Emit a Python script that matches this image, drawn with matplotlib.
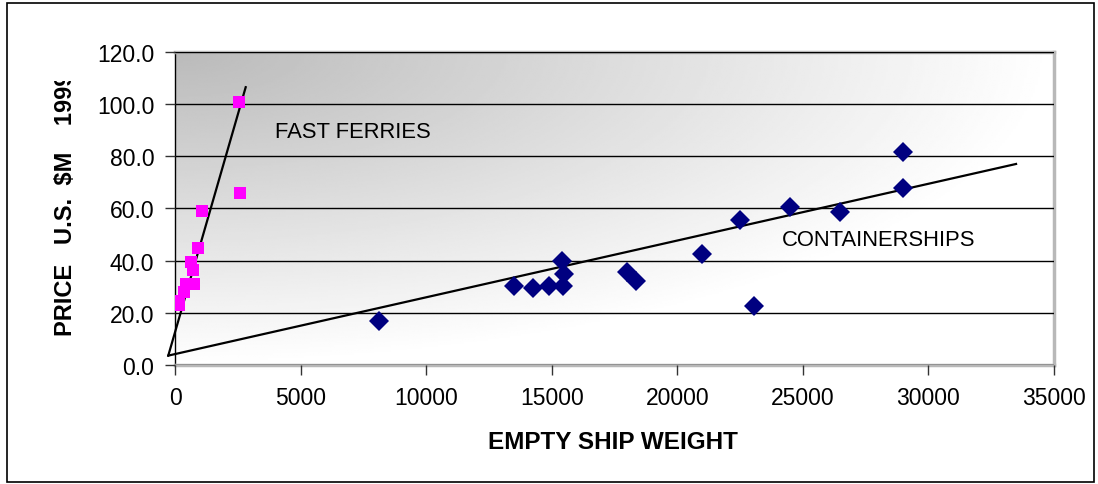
import numpy as np
import matplotlib
matplotlib.use("Agg")
import matplotlib.pyplot as plt
from matplotlib.patches import Rectangle
from matplotlib.transforms import Bbox, TransformedBbox

plt.rcParams["font.family"] = ["Liberation Sans", "DejaVu Sans"]

# Containerships: empty ship weight vs price (US $M, 1999)
ship_weight = [8100, 13500, 14250, 14900, 15400, 15500, 15450, 18000, 18350,
               21000, 22500, 23050, 24500, 26500, 29000, 29000]
ship_price = [17.0, 30.4, 29.4, 30.4, 39.9, 34.9, 30.4, 35.5, 32.3,
              42.5, 55.6, 22.7, 60.4, 58.5, 81.5, 67.7]

# Fast ferries
ferry_weight = [2540, 2590, 1080, 890, 630, 690, 745, 430, 350, 150, 150]
ferry_price = [100.8, 65.9, 58.9, 44.7, 39.4, 36.2, 31.1, 31.1, 27.9, 24.7, 22.8]

# Hand-drawn trend lines (endpoints)
ship_trend_x = [-280, 33500]
ship_trend_y = [3.6, 77.0]
ferry_trend_x = [-280, 2805]
ferry_trend_y = [3.6, 106.4]

fig = plt.figure(figsize=(10.98, 4.85), dpi=100)
fig.patch.set_facecolor("white")
fig.patches.append(Rectangle((7 / 1098, 2 / 485), 1087 / 1098, 479 / 485,
                             transform=fig.transFigure, fill=False,
                             edgecolor="black", linewidth=1.2))

ax = fig.add_axes([175.3 / 1098, (485 - 366) / 485,
                   (1053.7 - 175.3) / 1098, (366 - 52.7) / 485])

# grey-to-white corner gradient behind the plot (darkest top-left)
u = np.linspace(0, 1, 400)[None, :]
v = np.linspace(0, 1, 200)[:, None]
f = np.clip(np.sqrt(u ** 2 + v ** 2), 0, 1)
bg = 0.73 + 0.27 * f
ax.imshow(bg, cmap="gray", vmin=0, vmax=1, extent=(0, 35000, 0, 120),
          origin="upper", aspect="auto", zorder=0, interpolation="bilinear")
ax.set_xlim(0, 35000)
ax.set_ylim(0, 120)

ax.set_yticks(np.arange(0, 121, 20))
ax.set_yticklabels([f"{t:.1f}" for t in np.arange(0, 121, 20)])
ax.set_xticks(np.arange(0, 35001, 5000))
ax.grid(axis="y", color="black", linewidth=1.0, zorder=1)
ax.set_axisbelow(False)
for s in ("top", "right", "bottom"):
    ax.spines[s].set_color("#b8b8b8")
    ax.spines[s].set_linewidth(2.5)
ax.spines["left"].set_color("black")
ax.spines["left"].set_linewidth(1.0)
ax.tick_params(direction="out", length=7, width=1, color="#333333",
               labelsize=16.5, pad=8)

ax.plot(ferry_trend_x, ferry_trend_y, color="black", lw=1.6, clip_on=False, zorder=3)
ax.plot(ship_trend_x, ship_trend_y, color="black", lw=1.6, clip_on=False, zorder=3)
ax.plot(ferry_weight, ferry_price, "s", color="#ff00ff", markersize=9,
        markeredgewidth=0, zorder=4)
ax.plot(ship_weight, ship_price, "D", color="#000080", markersize=10,
        markeredgewidth=0, zorder=4)

ax.text(3990, 89.5, "FAST FERRIES", fontsize=15.8, va="center", ha="left")
ax.text(24150, 47.9, "CONTAINERSHIPS", fontsize=15.8, va="center", ha="left")

fig.text(613 / 1098, 1 - 443 / 485, "EMPTY SHIP WEIGHT", fontsize=17.5,
         fontweight="bold", ha="center", va="center")

# y title is cut off at the top of the chart area
ylab = fig.text(66 / 1098, 1 - 336 / 485, "PRICE   U.S.  $M    1999",
                fontsize=17, fontweight="bold", rotation=90,
                ha="center", va="bottom")
clip = TransformedBbox(Bbox([[0, 0], [1, 1 - 82 / 485]]), fig.transFigure)
ylab.set_clip_box(clip)
ylab.set_clip_on(True)

fig.savefig("out.png", dpi=100)
